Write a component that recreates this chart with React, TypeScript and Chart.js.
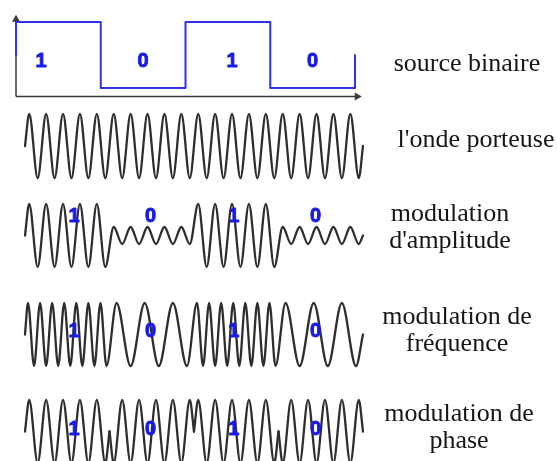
import React, { useEffect, useRef } from "react";
import { Chart, registerables } from "chart.js";

Chart.register(...registerables);

// ---- data ----
const bits = [1, 0, 1, 0];
// extrema (peak = 1, trough = -1) of each wave inside one bit period
const carrierPerBit = [1, -1, 1, -1, 1, -1, 1, -1, 1, -1];
const amOne = [1, -1, 1, -1, 1, -1, 1, -1, 1, -1];
const amZero = [0.27, -0.27, 0.27, -0.27, 0.27, -0.27, 0.27, -0.27, 0.27, -0.27];
const fmOne = [1, -1, 1, -1, 1, -1, 1, -1, 1, -1, 1, -1, 1, -1];
const fmZero = [1, -1, 1, -1, 1, -1];
const pskOne = [1, -1, 1, -1, 1, -1, 1, -1, 1, -1];
const pskZero = [-1, 1, -1, 1, -1, 1, -1, 1, -1, 1];
const rowTitles = [
  ["source binaire"],
  ["l'onde porteuse"],
  ["modulation", "d'amplitude"],
  ["modulation de", "fréquence"],
  ["modulation de", "phase"],
];

const WAVE = "#2e2e2e";
const BLUE_LINE = "#3232e2";
const BLUE_TEXT = "#1a1ae8";
const AXIS = "#3a3a3a";

type P = { x: number; y: number };
type Label = { x: number; y: number; text: string };

function bitSegment(i: number, extrema: number[]): P[] {
  return extrema.map((y, k) => ({ x: i + (k + 0.5) / extrema.length, y }));
}
function continuousWave(perBit: number[][]): P[] {
  const pts: P[] = [{ x: 0, y: 0 }];
  perBit.forEach((ex, i) => pts.push(...bitSegment(i, ex)));
  pts.push({ x: perBit.length, y: 0 });
  return pts;
}
function splitWave(perBit: number[][]): P[][] {
  return perBit.map((ex, i) => [{ x: i, y: 0 }, ...bitSegment(i, ex), { x: i + 1, y: 0 }]);
}
function stepPoints(b: number[]): P[] {
  const pts: P[] = [{ x: 0, y: 0.5 }];
  b.forEach((v, i) => {
    pts.push({ x: i, y: v });
    pts.push({ x: i + 1, y: v });
  });
  pts.push({ x: b.length, y: 0.5 });
  return pts;
}

function digitPlugin(items: Label[]) {
  return {
    id: "digits",
    afterDatasetsDraw(chart: any) {
      const { ctx, scales } = chart;
      ctx.save();
      ctx.font = 'bold 20px "Liberation Sans", Arial, sans-serif';
      ctx.fillStyle = BLUE_TEXT;
      ctx.strokeStyle = BLUE_TEXT;
      ctx.lineWidth = 0.9;
      ctx.lineJoin = "round";
      ctx.textAlign = "center";
      ctx.textBaseline = "alphabetic";
      items.forEach((it) => {
        const px = scales.x.getPixelForValue(it.x);
        const py = scales.y.getPixelForValue(it.y) + 7;
        ctx.fillText(it.text, px, py);
        ctx.strokeText(it.text, px, py);
      });
      ctx.restore();
    },
  };
}

const axesPlugin = {
  id: "binaryAxes",
  beforeDatasetsDraw(chart: any) {
    const { ctx, scales } = chart;
    const x0 = scales.x.getPixelForValue(0);
    const yAxis = scales.y.getPixelForValue(-0.13);
    const yTip = scales.y.getPixelForValue(1.11);
    const xTip = scales.x.getPixelForValue(4.08);
    ctx.save();
    ctx.strokeStyle = AXIS;
    ctx.fillStyle = AXIS;
    ctx.lineWidth = 1.5;
    ctx.beginPath();
    ctx.moveTo(x0, yAxis);
    ctx.lineTo(x0, yTip + 5);
    ctx.moveTo(x0, yAxis);
    ctx.lineTo(xTip - 6, yAxis);
    ctx.stroke();
    ctx.beginPath();
    ctx.moveTo(x0, yTip);
    ctx.lineTo(x0 - 4, yTip + 7);
    ctx.lineTo(x0 + 4, yTip + 7);
    ctx.closePath();
    ctx.fill();
    ctx.beginPath();
    ctx.moveTo(xTip, yAxis);
    ctx.lineTo(xTip - 7, yAxis - 4);
    ctx.lineTo(xTip - 7, yAxis + 4);
    ctx.closePath();
    ctx.fill();
    ctx.restore();
  },
};

type ChartBoxProps = {
  left: number;
  top: number;
  width: number;
  height: number;
  padding: { left: number; right: number; top: number; bottom: number };
  series: P[][];
  color: string;
  lineWidth: number;
  smooth: boolean;
  yMin: number;
  yMax: number;
  labels: Label[];
  axes?: boolean;
};

function ChartBox(props: ChartBoxProps) {
  const ref = useRef<HTMLCanvasElement | null>(null);
  useEffect(() => {
    if (!ref.current) return;
    const plugins: any[] = [digitPlugin(props.labels)];
    if (props.axes) plugins.unshift(axesPlugin);
    const chart = new Chart(ref.current, {
      type: "line",
      data: {
        datasets: props.series.map((s) => ({
          data: s,
          borderColor: props.color,
          borderWidth: props.lineWidth,
          pointRadius: 0,
          fill: false,
          clip: false as any,
          cubicInterpolationMode: props.smooth ? "monotone" : "default",
          tension: 0,
          borderJoinStyle: "round",
          borderCapStyle: "round",
        })),
      },
      options: {
        animation: false,
        responsive: false,
        events: [],
        layout: { padding: props.padding },
        plugins: { legend: { display: false }, tooltip: { enabled: false }, title: { display: false } },
        scales: {
          x: { type: "linear", min: 0, max: bits.length, display: false },
          y: { type: "linear", min: props.yMin, max: props.yMax, display: false },
        },
      } as any,
      plugins,
    });
    return () => chart.destroy();
  }, []);
  return (
    <canvas
      ref={ref}
      width={props.width}
      height={props.height}
      style={{ position: "absolute", left: props.left, top: props.top, width: props.width, height: props.height }}
    />
  );
}

const waveDigitX = [0.58, 1.485, 2.47, 3.44];

function WaveRow({ peak, trough, series, labelY }: { peak: number; trough: number; series: P[][]; labelY: number | null }) {
  const pad = 6;
  const labels: Label[] =
    labelY === null ? [] : bits.map((b, i) => ({ x: waveDigitX[i], y: labelY, text: String(b) }));
  return (
    <ChartBox
      left={15}
      top={peak - pad}
      width={358}
      height={trough - peak + 2 * pad}
      padding={{ left: 10, right: 10, top: pad, bottom: pad }}
      series={series}
      color={WAVE}
      lineWidth={2.3}
      smooth={true}
      yMin={-1}
      yMax={1}
      labels={labels}
    />
  );
}

const titlePos = [
  { cx: 467, top: 50 },
  { cx: 476, top: 126 },
  { cx: 450, top: 200 },
  { cx: 457, top: 303 },
  { cx: 459, top: 400 },
];

export default function App() {
  const binaryDigitX = [0.295, 1.5, 2.55, 3.5];
  const binLabels: Label[] = bits.map((b, i) => ({ x: binaryDigitX[i], y: 0.42, text: String(b) }));
  return (
    <div
      style={{
        position: "absolute",
        left: 0,
        top: 0,
        width: 557,
        height: 461,
        overflow: "hidden",
        background: "#fff",
      }}
    >
      <ChartBox
        left={6}
        top={5}
        width={366}
        height={100}
        padding={{ left: 10, right: 17, top: 17, bottom: 17 }}
        series={[stepPoints(bits)]}
        color={BLUE_LINE}
        lineWidth={2}
        smooth={false}
        yMin={0}
        yMax={1}
        labels={binLabels}
        axes={true}
      />
      <WaveRow peak={114} trough={178} series={[continuousWave(bits.map(() => carrierPerBit))]} labelY={null} />
      <WaveRow peak={204} trough={267} series={[continuousWave(bits.map((b) => (b ? amOne : amZero)))]} labelY={0.65} />
      <WaveRow peak={303} trough={366} series={[continuousWave(bits.map((b) => (b ? fmOne : fmZero)))]} labelY={0.13} />
      <WaveRow peak={400} trough={463} series={splitWave(bits.map((b) => (b ? pskOne : pskZero)))} labelY={0.1} />
      {rowTitles.map((lines, i) => (
        <div
          key={i}
          style={{
            position: "absolute",
            left: titlePos[i].cx - 110,
            top: titlePos[i].top,
            width: 220,
            textAlign: "center",
            fontFamily: '"Liberation Serif", "Times New Roman", serif',
            fontSize: 26,
            lineHeight: "26.5px",
            color: "#161616",
            whiteSpace: "nowrap",
          }}
        >
          {lines.map((l, j) => (
            <div key={j}>{l}</div>
          ))}
        </div>
      ))}
    </div>
  );
}
